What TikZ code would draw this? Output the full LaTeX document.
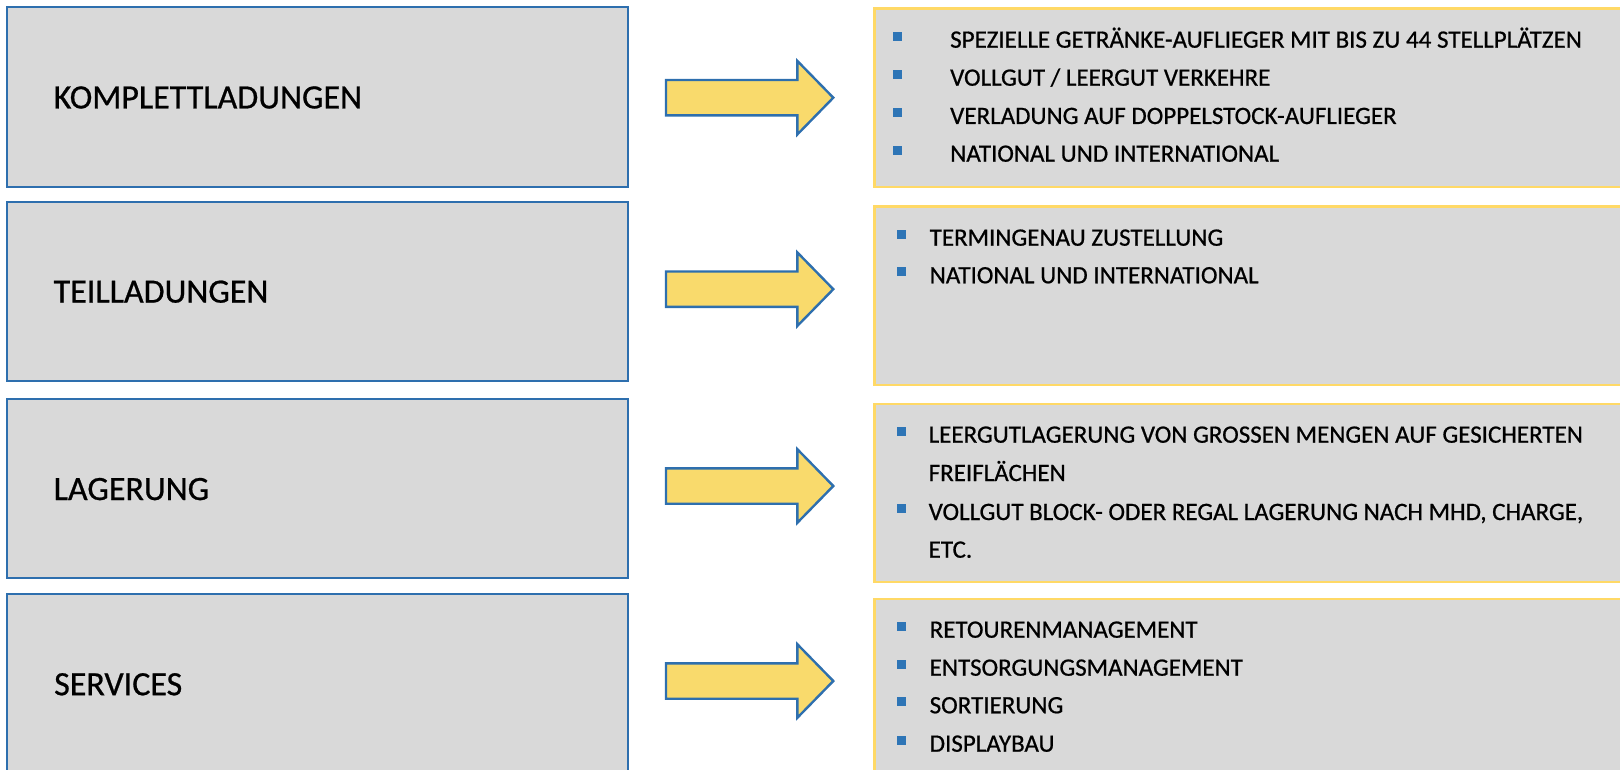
\documentclass[tikz,border=0pt]{standalone}
\usepackage{fontspec}
\setmainfont{Carlito}
\newfontfamily\medfont{Carlito}[FakeBold=0.7]
\definecolor{boxgray}{HTML}{D9D9D9}
\definecolor{edgeblue}{HTML}{2E6FAE}
\definecolor{goldline}{HTML}{FFD966}
\definecolor{goldfill}{HTML}{F9DA6C}
\definecolor{bulletblue}{HTML}{2E75B6}
\newcommand\sqbullet[1]{\llap{\textcolor{bulletblue}{\rule[7pt]{9pt}{9pt}}\hspace{#1}}}
\begin{document}
\begin{tikzpicture}[x=1pt,y=-1pt,
  leftbox/.style={draw=edgeblue, line width=2pt, fill=boxgray, minimum width=621pt, minimum height=179.2pt, inner sep=0pt},
  rightbox/.style={draw=goldline, line width=2.5pt, fill=boxgray, minimum width=780pt, minimum height=178.3pt, inner sep=0pt, anchor=north west},
  lefttext/.style={anchor=west, inner sep=0pt, font=\medfont\fontsize{34pt}{40pt}\selectfont},
  itemtext/.style={anchor=base west, inner sep=0pt, font=\medfont\fontsize{25pt}{38pt}\selectfont},
  bigarrow/.style={draw=edgeblue, line width=2.4pt, fill=goldfill, line join=miter}
]
\useasboundingbox (0,0) rectangle (1620,770);
\clip (0,0) rectangle (1620,770);

% left boxes
\node[leftbox] (L1) at (317.2,97) {};
\node[leftbox] (L2) at (317.2,291.2) {};
\node[leftbox] (L3) at (317.2,488.6) {};
\node[leftbox] (L4) at (317.2,683.8) {};

\node[lefttext] (T1) at (53.5,97.5) {KOMPLETTLADUNGEN};
\node[lefttext] (T2) at (53.5,291.7) {TEILLADUNGEN};
\node[lefttext] (T3) at (53.5,489.1) {LAGERUNG};
\node[lefttext] (T4) at (54,684.3) {SERVICES};

% right boxes
\node[rightbox] (R1) at (873.3,7.4) {};
\node[rightbox] (R2) at (873.3,205.2) {};
\node[rightbox] (R3) at (873.3,402.6) {};
\node[rightbox] (R4) at (873.3,597.6) {};

% arrows
\foreach \n/\c in {1/97.7,2/289.2,3/486,4/681} {
  \coordinate (arr\n) at (666,\c);
  \draw[bigarrow] (arr\n) ++(0,-17.7) -- ++(131.3,0) -- ++(0,-19.1) -- ++(36,36.8) -- ++(-36,36.8) -- ++(0,-19.1) -- ++(-131.3,0) -- cycle;
}

% box 1 items
\node[itemtext] (i11) at (950,47.7) {\sqbullet{48.3pt}SPEZIELLE GETRÄNKE-AUFLIEGER MIT BIS ZU 44 STELLPLÄTZEN};
\node[itemtext] (i12) at (950,85.7) {\sqbullet{48.3pt}VOLLGUT / LEERGUT VERKEHRE};
\node[itemtext] (i13) at (950,124) {\sqbullet{48.3pt}VERLADUNG AUF DOPPELSTOCK-AUFLIEGER};
\node[itemtext] (i14) at (950,161.7) {\sqbullet{48.3pt}NATIONAL UND INTERNATIONAL};

% box 2 items
\node[itemtext] (i21) at (929.5,245.7) {\sqbullet{23.5pt}TERMINGENAU ZUSTELLUNG};
\node[itemtext] (i22) at (929.5,283.3) {\sqbullet{23.5pt}NATIONAL UND INTERNATIONAL};

% box 3 items
\node[itemtext] (i31) at (928.5,442.7) {\sqbullet{22.8pt}LEERGUTLAGERUNG VON GROSSEN MENGEN AUF GESICHERTEN};
\node[itemtext] (i32) at (928.5,481) {FREIFLÄCHEN};
\node[itemtext] (i33) at (928.5,520) {\sqbullet{22.8pt}VOLLGUT BLOCK- ODER REGAL LAGERUNG NACH MHD, CHARGE,};
\node[itemtext] (i34) at (928.5,557.7) {ETC.};

% box 4 items
\node[itemtext] (i41) at (929.5,637.7) {\sqbullet{23.5pt}RETOURENMANAGEMENT};
\node[itemtext] (i42) at (929.5,675.7) {\sqbullet{23.5pt}ENTSORGUNGSMANAGEMENT};
\node[itemtext] (i43) at (929.5,713.3) {\sqbullet{23.5pt}SORTIERUNG};
\node[itemtext] (i44) at (929.5,751.7) {\sqbullet{23.5pt}DISPLAYBAU};
\end{tikzpicture}
\end{document}
